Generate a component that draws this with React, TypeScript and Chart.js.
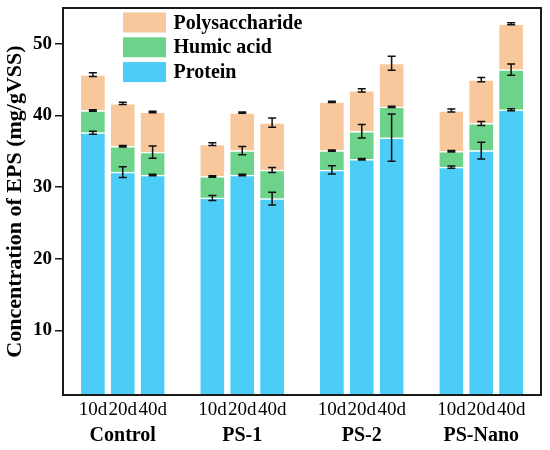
import { useEffect, useRef } from "react";
import { Chart, registerables } from "chart.js";
import type { Plugin } from "chart.js";

Chart.register(...registerables);

const groups = ["Control", "PS-1", "PS-2", "PS-Nano"];
const days = ["10d", "20d", "40d"];

// segment heights, ordered Control 10d/20d/40d, PS-1 ..., PS-2 ..., PS-Nano ...
const protein = [37.6, 32.1, 31.7, 28.5, 31.7, 28.4, 32.4, 33.9, 36.9, 32.8, 35.1, 40.8];
const humicAcid = [3.1, 3.6, 3.2, 3.0, 3.4, 4.0, 2.7, 3.9, 4.3, 2.2, 3.8, 5.6];
const polysaccharide = [5.0, 6.0, 5.6, 4.5, 5.3, 6.6, 6.8, 5.7, 6.1, 5.7, 6.1, 6.4];

const proteinErr = [0.2, 0.75, 0.1, 0.35, 0.1, 0.9, 0.58, 0.1, 3.3, 0.15, 1.16, 0.15];
const humicErr = [0.1, 0.1, 0.86, 0.1, 0.58, 0.35, 0.1, 0.93, 0.1, 0.1, 0.28, 0.77];
const polyErr = [0.25, 0.15, 0.1, 0.2, 0.1, 0.65, 0.1, 0.23, 0.98, 0.2, 0.3, 0.15];

const yTicks = [10, 20, 30, 40, 50];

const FONT = "'Liberation Serif', 'Times New Roman', serif";

// one empty slot before every group and one at the end
const slotCount = groups.length * (days.length + 1) + 1;
const slotOf = (i: number) => Math.floor(i / days.length) * (days.length + 1) + (i % days.length) + 1;

const toSlots = <T,>(vals: T[]) => {
  const out: (T | null)[] = Array(slotCount).fill(null);
  vals.forEach((v, i) => (out[slotOf(i)] = v));
  return out;
};

const dayRow: string[] = Array(slotCount).fill("");
groups.forEach((_, g) => days.forEach((d, k) => (dayRow[slotOf(g * days.length + k)] = d)));

const groupRow: string[] = Array(slotCount).fill("");
groups.forEach((name, g) => (groupRow[slotOf(g * days.length + 1)] = name));

const errorBars: Plugin<"bar"> = {
  id: "errorBars",
  afterDatasetsDraw(chart) {
    const { ctx } = chart;
    const yScale = chart.scales.y;
    ctx.save();
    ctx.strokeStyle = "#111";
    ctx.lineWidth = 1.5;
    chart.data.datasets.forEach((ds, i) => {
      const errs = (ds as any).errors as (number | null)[];
      const meta = chart.getDatasetMeta(i);
      meta.data.forEach((bar, j) => {
        const e = errs[j];
        if (e == null) return;
        let top = 0;
        for (let k = 0; k <= i; k++) top += (chart.data.datasets[k].data[j] as number) || 0;
        const x = (bar as any).x as number;
        const y1 = yScale.getPixelForValue(top + e);
        const y2 = yScale.getPixelForValue(top - e);
        ctx.beginPath();
        ctx.moveTo(x, y1);
        ctx.lineTo(x, y2);
        ctx.moveTo(x - 4, y1);
        ctx.lineTo(x + 4, y1);
        ctx.moveTo(x - 4, y2);
        ctx.lineTo(x + 4, y2);
        ctx.stroke();
      });
    });
    ctx.restore();
  },
};

const frameAndLegend: Plugin<"bar"> = {
  id: "frameAndLegend",
  afterDraw(chart) {
    const { ctx, chartArea } = chart;
    ctx.save();
    ctx.strokeStyle = "#1a1a1a";
    ctx.lineWidth = 2;
    ctx.strokeRect(chartArea.left, chartArea.top, chartArea.right - chartArea.left, chartArea.bottom - chartArea.top);

    const left = chartArea.left + 60;
    const top = chartArea.top + 4.5;
    const items = chart.data.datasets.slice().reverse();
    ctx.font = `bold 20px ${FONT}`;
    ctx.textBaseline = "middle";
    items.forEach((ds, k) => {
      const y = top + k * 24.8;
      ctx.fillStyle = ds.backgroundColor as string;
      ctx.fillRect(left, y, 43, 20);
      ctx.fillStyle = "#000";
      ctx.fillText(ds.label as string, left + 50.5, y + 11);
    });
    ctx.restore();
  },
};

function EpsChart() {
  const canvasRef = useRef<HTMLCanvasElement>(null);
  const chartInstance = useRef<Chart | null>(null);

  useEffect(() => {
    if (!canvasRef.current) return;
    if (chartInstance.current) chartInstance.current.destroy();

    const barStyle = {
      borderColor: "#ffffff",
      borderWidth: { top: 1.5, left: 0.5, right: 0.5, bottom: 0 },
      borderSkipped: false as const,
      barThickness: 24,
    };

    chartInstance.current = new Chart(canvasRef.current, {
      type: "bar",
      data: {
        labels: dayRow,
        datasets: [
          { label: "Protein", data: toSlots(protein), backgroundColor: "#4ccdf8", errors: toSlots(proteinErr), ...barStyle } as any,
          { label: "Humic acid", data: toSlots(humicAcid), backgroundColor: "#6dd38a", errors: toSlots(humicErr), ...barStyle } as any,
          { label: "Polysaccharide", data: toSlots(polysaccharide), backgroundColor: "#f9c79c", errors: toSlots(polyErr), ...barStyle } as any,
        ],
      },
      options: {
        responsive: true,
        maintainAspectRatio: false,
        animation: false,
        layout: { padding: { top: 8, right: 9, bottom: 0, left: 0 } },
        plugins: {
          legend: { display: false },
          tooltip: { enabled: false },
        },
        scales: {
          x: {
            stacked: true,
            offset: false,
            grid: { display: false, drawTicks: false },
            border: { display: false },
            ticks: {
              autoSkip: false,
              maxRotation: 0,
              minRotation: 0,
              padding: 4,
              color: "#000",
              font: { family: FONT, size: 19 },
            },
            afterFit: (scale) => {
              scale.height = 28;
              scale.paddingLeft = 0;
              scale.paddingRight = 0;
            },
          },
          x2: {
            type: "category",
            labels: groupRow,
            position: "bottom",
            weight: 1,
            offset: false,
            grid: { display: false, drawTicks: false },
            border: { display: false },
            ticks: {
              autoSkip: false,
              maxRotation: 0,
              minRotation: 0,
              padding: 1,
              color: "#000",
              font: { family: FONT, size: 20, weight: "bold" },
            },
            afterFit: (scale) => {
              scale.height = 27;
              scale.paddingLeft = 0;
              scale.paddingRight = 0;
            },
          },
          y: {
            stacked: true,
            min: 1,
            max: 55,
            border: { display: false },
            grid: {
              drawOnChartArea: false,
              drawTicks: true,
              tickLength: 8,
              color: "#1a1a1a",
              lineWidth: 1.5,
            },
            afterBuildTicks: (scale) => {
              scale.ticks = yTicks.map((v) => ({ value: v }));
            },
            ticks: {
              padding: 3,
              color: "#000",
              font: { family: FONT, size: 19, weight: "bold" },
            },
            title: {
              display: true,
              text: "Concentration of EPS (mg/gVSS)",
              color: "#000",
              padding: { top: 2, bottom: 0 },
              font: { family: FONT, size: 22, weight: "bold" },
            },
            afterFit: (scale) => {
              scale.width = 63;
              scale.paddingTop = 0;
              scale.paddingBottom = 0;
            },
          },
        },
      },
      plugins: [errorBars, frameAndLegend],
    });

    return () => {
      if (chartInstance.current) {
        chartInstance.current.destroy();
        chartInstance.current = null;
      }
    };
  }, []);

  return (
    <div style={{ position: "absolute", left: 0, top: 0, width: 550, height: 450, background: "#fff" }}>
      <canvas ref={canvasRef} />
    </div>
  );
}

export default function App() {
  return <EpsChart />;
}
